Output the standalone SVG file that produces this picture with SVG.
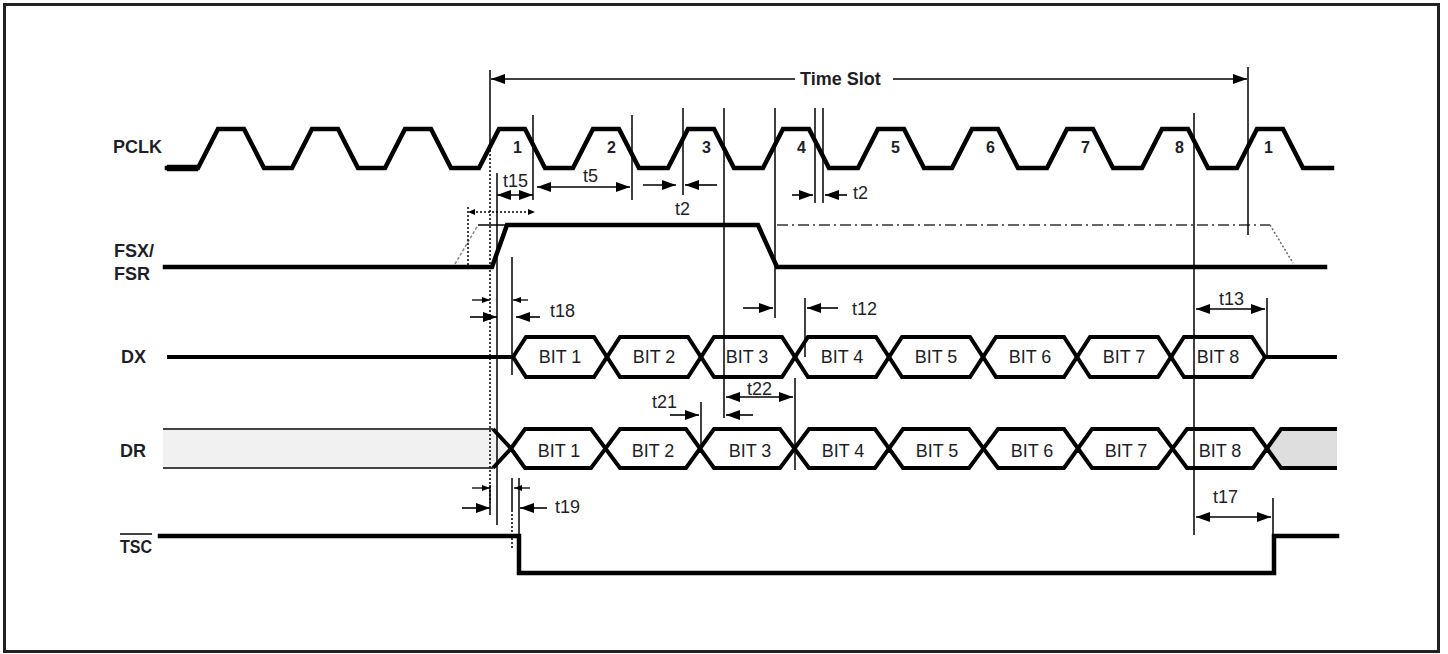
<svg xmlns="http://www.w3.org/2000/svg" width="1448" height="654" viewBox="0 0 1448 654">
<defs>
<style>
text{font-family:"Liberation Sans",Arial,sans-serif;fill:#1e1e28}
.lbl{font-size:18px;font-weight:bold}
.num{font-size:16px;font-weight:bold}
.tl{font-size:18px}
.bit{font-size:18px;text-anchor:middle}
.sig{fill:none;stroke:#000;stroke-width:4.5;stroke-linejoin:miter;stroke-linecap:square}
.bus{fill:none;stroke:#000;stroke-width:4;stroke-linejoin:miter}
.thin{stroke:#000;stroke-width:1.5;fill:none}
.dot{stroke:#000;stroke-width:1.5;stroke-dasharray:2 2;fill:none}
.arr{stroke:#000;stroke-width:1.6;fill:none;marker-end:url(#ah)}
.arr2{stroke:#000;stroke-width:1.6;fill:none;marker-start:url(#ah);marker-end:url(#ah)}
.arrs{stroke:#000;stroke-width:1.3;fill:none;marker-end:url(#as)}
</style>
<marker id="ah" viewBox="0 0 14 10" refX="14" refY="5" markerWidth="14" markerHeight="10" markerUnits="userSpaceOnUse" orient="auto-start-reverse"><path d="M0,0 L14,5 L0,10 z" fill="#000"/></marker>
<marker id="as" viewBox="0 0 8 6" refX="8" refY="3" markerWidth="8" markerHeight="6" markerUnits="userSpaceOnUse" orient="auto-start-reverse"><path d="M0,0 L8,3 L0,6 z" fill="#000"/></marker>
</defs>
<rect x="4.5" y="4.5" width="1434" height="647" fill="#fff" stroke="#222" stroke-width="3"/>

<g id="labels">
<text class="lbl" x="113" y="153">PCLK</text>
<text class="lbl" x="114" y="257">FSX/</text>
<text class="lbl" x="114" y="280">FSR</text>
<text class="lbl" x="121" y="363">DX</text>
<text class="lbl" x="120" y="457">DR</text>
<text class="lbl" x="120" y="553" textLength="32" lengthAdjust="spacingAndGlyphs">TSC</text>
<line x1="120" y1="534" x2="152" y2="534" stroke="#000" stroke-width="1.5"/>
</g>

<g id="pclk">
<path class="sig" d="M167,168 L198,168 L218,129 L244,129 L264,168 L292,168 L312,129 L338,129 L358,168 L385,168 L405,129 L431,129 L451,168 L479,168 L499,129 L525,129 L545,168 L573,168 L593,129 L619,129 L639,168 L668,168 L688,129 L714,129 L734,168 L763,168 L783,129 L809,129 L829,168 L858,168 L878,129 L904,129 L924,168 L952,168 L972,129 L998,129 L1018,168 L1047,168 L1067,129 L1093,129 L1113,168 L1142,168 L1162,129 L1188,129 L1208,168 L1237,168 L1257,129 L1283,129 L1303,168 L1332,168"/>
<path d="M167,168 L198,168" stroke="#000" stroke-width="6.5" fill="none"/>
<text class="num" x="513" y="153">1</text>
<text class="num" x="607" y="153">2</text>
<text class="num" x="702" y="153">3</text>
<text class="num" x="797" y="153">4</text>
<text class="num" x="891" y="153">5</text>
<text class="num" x="986" y="153">6</text>
<text class="num" x="1081" y="153">7</text>
<text class="num" x="1175" y="153">8</text>
<text class="num" x="1264" y="153">1</text>
</g>

<g id="fsx">
<path class="sig" d="M165,267 L492,267 L507,225 L758,225 L777,267 L1325,267"/>
<line x1="455" y1="264" x2="478" y2="225" stroke="#888" stroke-width="1.5" stroke-dasharray="3 2"/>
<line x1="478" y1="225" x2="507" y2="225" class="thin"/>
<line x1="777" y1="225" x2="1270" y2="225" stroke="#333" stroke-width="1.5" stroke-dasharray="11 4 2 4"/>
<line x1="1270" y1="225" x2="1293" y2="263" stroke="#666" stroke-width="1.5" stroke-dasharray="2 2"/>
</g>

<g id="dx">
<path class="bus" d="M167,357 L513,357 L526,337 L594,337 L607,357 L620,337 L688,337 L701,357 L714,337 L782,337 L795,357 L808,337 L876,337 L889,357 L902,337 L970,337 L983,357 L996,337 L1064,337 L1077,357 L1090,337 L1158,337 L1171,357 L1184,337 L1252,337 L1265,357 L1337,357"/>
<path class="bus" d="M513,357 L526,377 L594,377 L607,357 L620,377 L688,377 L701,357 L714,377 L782,377 L795,357 L808,377 L876,377 L889,357 L902,377 L970,377 L983,357 L996,377 L1064,377 L1077,357 L1090,377 L1158,377 L1171,357 L1184,377 L1252,377 L1265,357"/>
<text class="bit" x="560" y="363">BIT 1</text>
<text class="bit" x="654" y="363">BIT 2</text>
<text class="bit" x="747" y="363">BIT 3</text>
<text class="bit" x="842" y="363">BIT 4</text>
<text class="bit" x="936" y="363">BIT 5</text>
<text class="bit" x="1030" y="363">BIT 6</text>
<text class="bit" x="1124" y="363">BIT 7</text>
<text class="bit" x="1218" y="363">BIT 8</text>
</g>

<g id="dr">
<path d="M163,429 L493,429 L511,448.5 L493,468 L163,468 Z" fill="#f1f1f1"/>
<path d="M163,429 L493,429 M163,468 L493,468" stroke="#444" stroke-width="2.2" fill="none"/>
<path d="M1267,448.5 L1281,429 L1337,429 L1337,468 L1281,468 Z" fill="#dedede"/>
<path class="bus" d="M493,429 L511,448.5 L525,429 L591,429 L605.5,448.5 L620,429 L686,429 L700,448.5 L714,429 L780,429 L794.5,448.5 L809,429 L875,429 L889,448.5 L903,429 L969,429 L983.5,448.5 L998,429 L1064,429 L1078,448.5 L1092,429 L1158,429 L1172.5,448.5 L1187,429 L1253,429 L1267,448.5 L1281,429 L1337,429"/>
<path class="bus" d="M493,468 L511,448.5 L525,468 L591,468 L605.5,448.5 L620,468 L686,468 L700,448.5 L714,468 L780,468 L794.5,448.5 L809,468 L875,468 L889,448.5 L903,468 L969,468 L983.5,448.5 L998,468 L1064,468 L1078,448.5 L1092,468 L1158,468 L1172.5,448.5 L1187,468 L1253,468 L1267,448.5 L1281,468 L1337,468"/>
<text class="bit" x="559" y="457">BIT 1</text>
<text class="bit" x="653" y="457">BIT 2</text>
<text class="bit" x="750" y="457">BIT 3</text>
<text class="bit" x="843" y="457">BIT 4</text>
<text class="bit" x="937" y="457">BIT 5</text>
<text class="bit" x="1032" y="457">BIT 6</text>
<text class="bit" x="1126" y="457">BIT 7</text>
<text class="bit" x="1220" y="457">BIT 8</text>
</g>

<g id="tsc">
<path class="sig" d="M160,536 L519,536 L519,573 L1274,573 L1274,536 L1337,536"/>
</g>

<g id="connectors">
<line class="thin" x1="490" y1="70" x2="490" y2="150"/>
<line class="dot" x1="490" y1="150" x2="490" y2="503"/>
<line class="thin" x1="490" y1="485" x2="490" y2="515"/>
<line class="thin" x1="497" y1="173" x2="497" y2="525"/>
<line class="dot" x1="468" y1="207" x2="468" y2="265"/>
<line class="thin" x1="533" y1="115" x2="533" y2="200"/>
<line class="thin" x1="632" y1="115" x2="632" y2="200"/>
<line class="thin" x1="683" y1="108" x2="683" y2="195"/>
<line class="thin" x1="724" y1="108" x2="724" y2="418"/>
<line class="thin" x1="775" y1="108" x2="775" y2="318"/>
<line class="thin" x1="815" y1="108" x2="815" y2="203"/>
<line class="thin" x1="823" y1="108" x2="823" y2="203"/>
<line class="thin" x1="805" y1="298" x2="805" y2="357"/>
<line class="thin" x1="1248" y1="67" x2="1248" y2="235"/>
<line class="thin" x1="1194" y1="113" x2="1194" y2="535"/>
<line class="thin" x1="1267" y1="298" x2="1267" y2="355"/>
<line class="thin" x1="1273" y1="498" x2="1273" y2="536"/>
<line class="thin" x1="701" y1="402" x2="701" y2="447"/>
<line class="thin" x1="795" y1="378" x2="795" y2="470"/>
<line class="thin" x1="512" y1="257" x2="512" y2="375"/>
<line class="thin" x1="512" y1="478" x2="512" y2="510"/>
<line class="dot" x1="512" y1="510" x2="512" y2="550"/>
<line class="thin" x1="519" y1="478" x2="519" y2="536"/>

<line class="arr" x1="795" y1="79" x2="491" y2="79"/>
<line class="arr" x1="893" y1="79" x2="1247" y2="79"/>
<line class="arr2" x1="497" y1="195" x2="533" y2="195"/>
<line class="dot" x1="472" y1="212" x2="529" y2="212"/>
<path d="M468,212 L475,209 L475,215 Z M535,212 L528,209 L528,215 Z" fill="#000"/>
<line class="arr2" x1="537" y1="187" x2="630" y2="187"/>
<line class="arr" x1="643" y1="185" x2="676" y2="185"/>
<line class="arr" x1="717" y1="185" x2="685" y2="185"/>
<line class="arr" x1="792" y1="195" x2="813" y2="195"/>
<line class="arr" x1="847" y1="195" x2="825" y2="195"/>
<line class="arrs" x1="472" y1="300" x2="490" y2="300"/>
<line class="arr" x1="470" y1="317" x2="497" y2="317"/>
<line class="arrs" x1="528" y1="300" x2="513" y2="300"/>
<line class="arr" x1="540" y1="317" x2="516" y2="317"/>
<line class="arr" x1="743" y1="308" x2="773" y2="308"/>
<line class="arr" x1="838" y1="308" x2="807" y2="308"/>
<line class="arr2" x1="1196" y1="309" x2="1265" y2="309"/>
<line class="arr" x1="670" y1="415" x2="699" y2="415"/>
<line class="arr2" x1="726" y1="397" x2="793" y2="397"/>
<line class="arr" x1="753" y1="415" x2="726" y2="415"/>
<line class="arrs" x1="472" y1="488" x2="490" y2="488"/>
<line class="arr" x1="462" y1="508" x2="490" y2="508"/>
<line class="arrs" x1="530" y1="488" x2="514" y2="488"/>
<line class="arr" x1="547" y1="508" x2="520" y2="508"/>
<line class="arr2" x1="1196" y1="517" x2="1271" y2="517"/>
</g>

<g id="timing-labels">
<text class="lbl" x="800" y="85" font-size="18.5">Time Slot</text>
<text class="tl" x="503" y="187">t15</text>
<text class="tl" x="583" y="182">t5</text>
<text class="tl" x="675" y="215">t2</text>
<text class="tl" x="853" y="199">t2</text>
<text class="tl" x="550" y="317">t18</text>
<text class="tl" x="852" y="315">t12</text>
<text class="tl" x="1219" y="305">t13</text>
<text class="tl" x="652" y="408">t21</text>
<text class="tl" x="747" y="395">t22</text>
<text class="tl" x="555" y="513">t19</text>
<text class="tl" x="1213" y="503">t17</text>
</g>
</svg>
